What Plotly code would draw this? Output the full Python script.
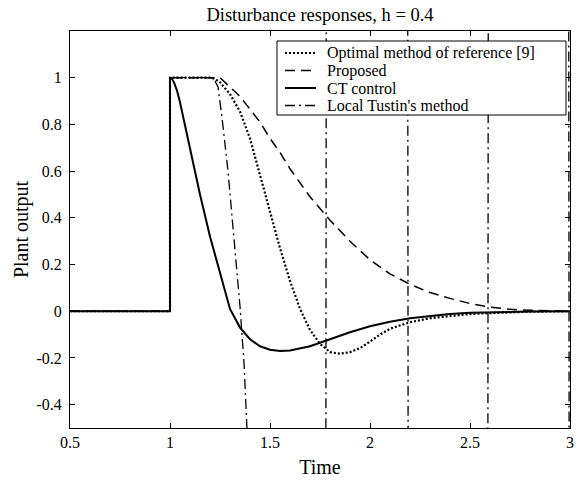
import plotly.graph_objects as go

# Optimal method of reference [9] (dotted)
t_opt = [0.5, 1.0, 1.0, 1.2, 1.225, 1.25, 1.3, 1.35, 1.4, 1.45, 1.5, 1.55, 1.6, 1.65, 1.7, 1.75,
         1.8, 1.85, 1.9, 1.95, 2.0, 2.05, 2.1, 2.2, 2.3, 2.4, 2.5, 2.6, 2.8, 3.0]
y_opt = [0, 0, 1, 1, 0.995, 0.98, 0.93, 0.855, 0.74, 0.58, 0.42, 0.27, 0.13, 0.01, -0.08, -0.14,
         -0.175, -0.182, -0.175, -0.158, -0.13, -0.1, -0.075, -0.047, -0.03, -0.02, -0.012, -0.008, -0.002, 0]

# Proposed (dashed)
t_prop = [0.5, 1.0, 1.0, 1.25, 1.3, 1.35, 1.4, 1.45, 1.5, 1.55, 1.6, 1.7, 1.8, 1.9, 2.0, 2.1,
          2.2, 2.3, 2.4, 2.5, 2.6, 2.7, 2.8, 2.9, 3.0]
y_prop = [0, 0, 1, 1, 0.96, 0.92, 0.865, 0.81, 0.74, 0.68, 0.61, 0.49, 0.39, 0.30, 0.22, 0.16,
          0.115, 0.08, 0.055, 0.033, 0.018, 0.008, 0.004, 0.001, 0]

# CT control (solid)
t_ct = [0.5, 1.0, 1.0, 1.01, 1.02, 1.035, 1.05, 1.1, 1.133, 1.15, 1.2, 1.25, 1.3, 1.35, 1.4, 1.45, 1.5,
        1.55, 1.6, 1.7, 1.8, 1.9, 2.0, 2.1, 2.2, 2.3, 2.4, 2.5, 2.6, 2.8, 3.0]
y_ct = [0, 0, 1, 0.995, 0.98, 0.945, 0.895, 0.70, 0.557, 0.50, 0.32, 0.16, 0.01, -0.07, -0.12, -0.15, -0.165,
        -0.17, -0.168, -0.15, -0.12, -0.09, -0.064, -0.045, -0.03, -0.02, -0.012, -0.007, -0.004, -0.001, 0]

# Local Tustin's method (dash-dot, unstable)
t_tus = [0.5, 1.0, 1.0, 1.2, 1.22, 1.24, 1.26, 1.29, 1.32, 1.35, 1.37, 1.39, 1.40,
         1.77, 1.79, 2.18, 2.20, 2.58, 2.60, 2.985, 3.005]
y_tus = [0, 0, 1, 1, 0.995, 0.96, 0.83, 0.6, 0.31, 0.02, -0.22, -0.6, -10,
         -10, 10, 10, -10, -10, 10, 10, -10]

x_ticks = [0.5, 1, 1.5, 2, 2.5, 3]
x_tick_labels = ["0.5", "1", "1.5", "2", "2.5", "3"]
y_ticks = [-0.4, -0.2, 0, 0.2, 0.4, 0.6, 0.8, 1]
y_tick_labels = ["-0.4", "-0.2", "0", "0.2", "0.4", "0.6", "0.8", "1"]

series_names = ["Optimal method of reference [9]", "Proposed", "CT control", "Local Tustin's method"]

FONT = "Liberation Serif"
styles = [
    dict(color="black", width=2.2, dash="2px,2px"),
    dict(color="black", width=1.5, dash="10px,6px"),
    dict(color="black", width=2),
    dict(color="black", width=1.3, dash="10px,4px,2px,4px"),
]
data = [(t_opt, y_opt), (t_prop, y_prop), (t_ct, y_ct), (t_tus, y_tus)]

fig = go.Figure()
for (tx, ty), name, st in zip(data, series_names, styles):
    fig.add_trace(go.Scatter(x=tx, y=ty, mode="lines", name=name, line=st, showlegend=False))

# plot area geometry (pixels) for manual legend placement
L, R, T, B = 70, 570, 31, 428
def px(x):
    return (x - L) / (R - L)
def py(y):
    return (B - y) / (B - T)

shapes = [dict(type="rect", xref="paper", yref="paper", x0=px(277), x1=px(566), y0=py(115), y1=py(41),
               line=dict(color="black", width=1), fillcolor="white", layer="above")]
annotations = []
row_y = [53, 70.5, 88, 105.5]
for name, st, ry in zip(series_names, styles, row_y):
    shapes.append(dict(type="line", xref="paper", yref="paper", x0=px(285), x1=px(316), y0=py(ry), y1=py(ry),
                       line=st, layer="above"))
    annotations.append(dict(xref="paper", yref="paper", x=px(325), y=py(ry), xanchor="left", yanchor="middle",
                            text=name, showarrow=False, font=dict(family=FONT, size=16, color="black")))

axis_common = dict(showgrid=False, zeroline=False, showline=True, linecolor="black", linewidth=1,
                   mirror="ticks", ticks="inside", ticklen=5, tickcolor="black", automargin=False,
                   ticklabeloverflow="allow",
                   tickfont=dict(family=FONT, size=16, color="black"))

fig.update_layout(
    width=576, height=481,
    margin=dict(l=L, r=576 - R, t=T, b=481 - B),
    paper_bgcolor="white", plot_bgcolor="white",
    title=dict(text="Disturbance responses, h = 0.4", x=320 / 576, xanchor="center",
               y=1 - 15 / 481, yanchor="middle",
               font=dict(family=FONT, size=18.5, color="black")),
    font=dict(family=FONT, size=16, color="black"),
    xaxis=dict(range=[0.5, 3], tickvals=x_ticks, ticktext=x_tick_labels,
               title=dict(text="Time", font=dict(family=FONT, size=20), standoff=9), **axis_common),
    yaxis=dict(range=[-0.5, 1.2], tickvals=y_ticks, ticktext=y_tick_labels, ticklabelstandoff=4,
               title=dict(text="Plant output", font=dict(family=FONT, size=20), standoff=2), **axis_common),
    shapes=shapes,
    annotations=annotations,
    showlegend=False,
)

fig.write_html("out.html", config={"displayModeBar": False},
               post_script="document.body.style.margin='0px';")
